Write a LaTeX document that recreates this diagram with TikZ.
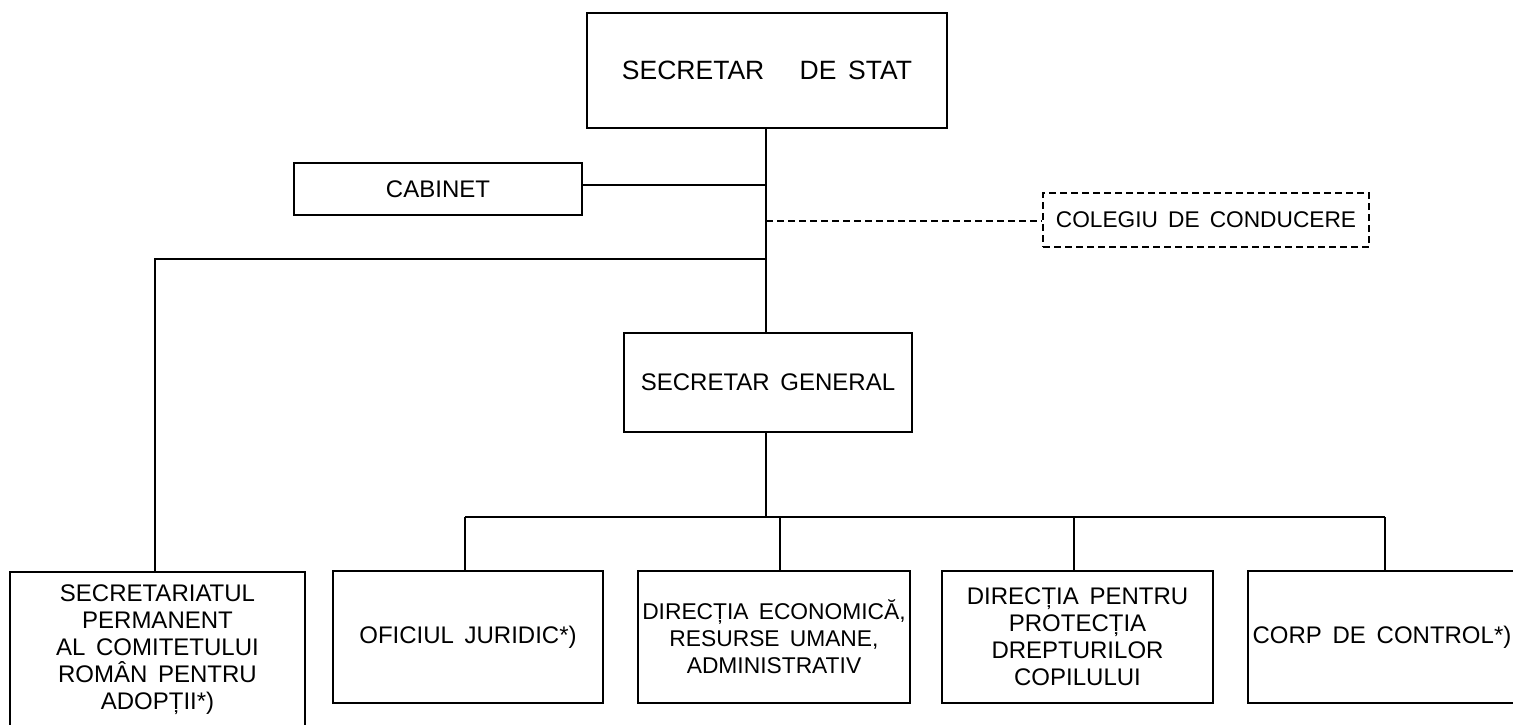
\documentclass[tikz,border=0pt]{standalone}
\usepackage{fontspec}
\setmainfont[WordSpace=1.6]{Liberation Sans}
\begin{document}
\begin{tikzpicture}[x=1pt,y=-1pt,
  box/.style={draw, line width=1.8pt, inner sep=0pt, align=center,
    font=\fontsize{24}{27}\selectfont},
  ln/.style={line width=1.8pt},
  dln/.style={line width=1.6pt, dash pattern=on 7pt off 4pt}]
\useasboundingbox (0,0) rectangle (1513,724);
\clip (0,0) rectangle (1513,724);
% nodes
\node[box, minimum width=360pt, minimum height=115pt, font=\fontsize{26.5}{30}\selectfont] (stat) at (767,70.5) {SECRETAR\ \ \ DE STAT};
\node[box, minimum width=288pt, minimum height=52pt] (cab) at (438,189) {CABINET};
\node[box, dln, minimum width=326pt, minimum height=54pt, font=\fontsize{22.7}{27}\selectfont] (col) at (1206,220) {COLEGIU DE CONDUCERE};
\node[box, minimum width=288pt, minimum height=99pt] (sg) at (768,382.5) {SECRETAR GENERAL};
\node[box, minimum width=295pt, minimum height=156pt] (b1) at (157.5,650) {SECRETARIATUL\\PERMANENT\\AL COMITETULUI\\ROMÂN PENTRU\\ADOPȚII*)};
\node[box, minimum width=270pt, minimum height=132pt] (b2) at (468,637) {OFICIUL JURIDIC*)};
\node[box, minimum width=272pt, minimum height=132pt, font=\fontsize{22.8}{27}\selectfont] (b3) at (774,637) {DIRECȚIA ECONOMICĂ,\\RESURSE UMANE,\\ADMINISTRATIV};
\node[box, minimum width=271pt, minimum height=132pt] (b4) at (1077.5,637) {DIRECȚIA PENTRU\\PROTECȚIA\\DREPTURILOR\\COPILULUI};
\node[box, minimum width=268pt, minimum height=132pt] (b5) at (1382,637) {CORP DE CONTROL*)};
% coordinates
\coordinate (jc) at (766,185);
\coordinate (jd) at (766,221);
\coordinate (jl) at (766,259);
\coordinate (bus) at (766,517);
\coordinate (bl) at (465,517);
\coordinate (br) at (1385,517);
% connectors
\draw[ln] (stat.south -| jc) -- (sg.north -| jc);
\draw[ln] (cab.east |- jc) -- (jc);
\draw[dln] (jd) -- (col.west |- jd);
\draw[ln] (jl) -- (155,259) -- (b1.north -| 155,0);
\draw[ln] (sg.south -| bus) -- (bus);
\draw[ln] (bl) -- (br);
\draw[ln] (bl) -- (b2.north -| bl);
\draw[ln] (780,517) -- (b3.north -| 780,0);
\draw[ln] (1074,517) -- (b4.north -| 1074,0);
\draw[ln] (br) -- (b5.north -| br);
\end{tikzpicture}
\end{document}
